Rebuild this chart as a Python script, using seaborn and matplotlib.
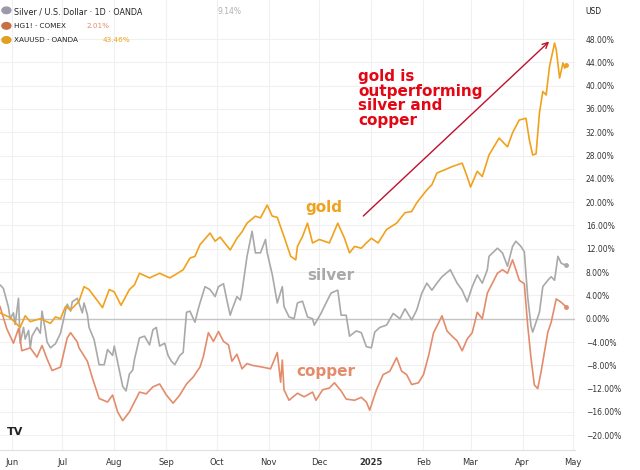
import matplotlib
matplotlib.use("Agg")
import matplotlib.pyplot as plt
import seaborn as sns
import pandas as pd
import numpy as np

start = pd.Timestamp("2024-06-01")

gold_days = [-7,-1,5,8,11,17,23,26,29,32,35,40,43,46,52,54,58,61,65,70,73,76,82,88,94,97,102,106,109,112,118,121,124,130,134,137,140,145,148,152,155,158,162,166,169,170,173,176,179,183,189,194,198,201,204,208,211,214,218,223,229,234,238,241,247,250,253,258,262,268,271,273,277,280,284,290,295,298,302,306,308,310,312,314,316,318,320,323,324,326,328,329,330]
gold_vals = [1,0.2,-1.5,0.5,-0.5,0,-0.8,0.3,0,2.1,1.5,3,5.5,5,2.7,1.9,5,4.6,2.3,5,5.8,7.8,7,7.8,7,7.5,8.4,10.4,10.7,12.7,14.7,13.3,14,11.8,13.8,14.9,16.4,17.6,17.3,19.5,17.6,17.4,14.1,10.7,10.1,12.4,14.1,16.4,13,13.6,13,16.4,13.8,11.3,12.4,12.1,13,13.8,13,15.3,16.4,18.2,18.4,19.9,22.1,23,25,25.6,26.1,26.7,24.4,22.6,25.3,24.4,28.1,31,29.5,31.9,34.1,34.4,30.7,28.1,28.3,35.3,39,38.4,43.3,47.3,46.2,41.3,43.9,43,43.46]

silver_days = [-7,-5,-2,-1,1,2,4,5,7,8,10,11,12,15,17,18,20,21,23,26,29,30,32,33,35,36,39,42,43,45,46,49,52,55,57,60,61,64,66,68,70,72,73,76,79,82,84,86,88,91,93,95,97,100,102,104,106,109,111,112,115,118,121,123,126,128,130,131,134,136,137,140,143,145,148,151,152,155,158,161,162,165,168,170,173,176,179,180,184,186,190,194,196,199,201,205,208,211,214,216,219,223,227,231,234,238,241,244,247,250,253,256,261,262,265,268,271,274,277,280,283,284,289,292,295,298,300,303,305,307,309,310,312,314,316,319,321,323,325,327,330]
silver_vals = [5.8,5.2,2,0,1,-1,3.5,-4.2,-1.5,-3.5,-2,-5,-3,-1.5,-2.5,1.3,-2,-4,-5,-4.3,-2.5,-1.2,1.4,2.5,1.3,2.9,3.5,1,2.7,0.7,-1.5,-3.6,-7.9,-7.9,-5.3,-6.3,-4.7,-8.8,-11.6,-12.4,-9.5,-8.8,-7,-3.3,-3,-4.5,-1.9,-1.5,-4.7,-4.2,-6.3,-7.3,-7.9,-6.3,-5.8,1.1,1.3,-0.6,1.7,2.7,5.5,5,3.8,5.5,6,3.2,0.6,1.5,3.8,3.2,4.6,10.7,15,11.3,11.3,13.6,11.3,7.6,2.7,5.5,2.1,0.3,0,2.7,3,0.3,0,-1.1,0.9,2.1,4.4,4.9,0.6,0.6,-3,-2.1,-2.4,-4.8,-5,-2.3,-1.5,-1.1,0.9,0,1.7,-0.2,1.5,4.4,6.1,4.9,6.1,7.2,8.4,7.8,6.1,4.9,2.9,5.5,7.5,6.1,8.4,10.7,12.1,11.3,9,12.4,13.3,12.4,11.5,3.8,-1.3,-2.3,-0.6,1.1,5.5,6.6,7.2,6.6,10.7,9.5,9.14]

copper_days = [-7,-3,1,4,6,11,15,18,21,24,29,33,35,39,40,45,48,52,57,60,63,66,70,73,76,80,84,88,92,96,100,104,108,112,114,117,120,123,126,129,131,134,137,140,143,149,154,158,160,161,162,165,170,174,179,181,185,189,192,196,199,204,208,211,213,217,221,225,229,232,235,238,242,245,248,251,254,256,259,262,265,268,271,274,277,280,283,286,289,292,295,298,300,302,305,307,309,311,313,315,317,319,321,324,327,330]
copper_vals = [2.1,-1.7,-4.2,-1.7,-5.5,-5,-6.6,-4.6,-6.9,-8.9,-8.3,-3.3,-2.4,-4,-5,-7.3,-10.2,-13.7,-14.3,-13.1,-16,-17.5,-16,-14.3,-12.6,-12.9,-11.7,-11.2,-13.1,-14.5,-13.1,-11.2,-10,-8.3,-6.5,-2.4,-3.9,-2.2,-3.9,-4.5,-7.3,-6.1,-8.6,-7.7,-8,-8.3,-8.6,-5.8,-10.9,-7.1,-12.2,-14,-12.8,-13.4,-12.6,-14,-12.2,-11.9,-11,-12.4,-13.8,-14,-13.5,-14.3,-15.7,-12.2,-9.6,-9,-6.7,-9,-9.6,-11.3,-11,-9.6,-6.4,-2.4,-0.7,0.5,-2.1,-3,-3.8,-5.5,-3.5,-2.4,1.1,0,4.4,6.1,7.8,8.4,7.8,10.1,8.4,6.6,6,-1.1,-6.8,-11.4,-12,-9.1,-5.7,-2.3,-0.6,3.4,2.8,2.01]

month_labels = ["Jun","Jul","Aug","Sep","Oct","Nov","Dec","2025","Feb","Mar","Apr","May"]
month_dates = pd.date_range("2024-06-01", periods=12, freq="MS")
y_ticks = list(range(48, -21, -4))

GOLD, SILVER, COPPER = "#f0a21c", "#a9a9a9", "#e38c6c"

def frame(days, vals, name):
    return pd.DataFrame({"date": start + pd.to_timedelta(days, unit="D"), "pct": vals, "series": name})

df = pd.concat([frame(gold_days, gold_vals, "gold"),
                frame(silver_days, silver_vals, "silver"),
                frame(copper_days, copper_vals, "copper")])

sns.set_style("white")
plt.rcParams['font.family'] = ['DejaVu Sans']
fig = plt.figure(figsize=(6.4, 4.7), dpi=100)
ax = fig.add_axes([0.0, 0.043, 0.898, 0.957])

ax.axhline(0, color="#c4c4c4", lw=1, zorder=1)
sns.lineplot(data=df, x="date", y="pct", hue="series",
             palette={"gold": GOLD, "silver": SILVER, "copper": COPPER},
             hue_order=["silver", "copper", "gold"], lw=1.2, legend=False, ax=ax, zorder=3)

ax.set_xlim(start + pd.Timedelta(days=-7), start + pd.Timedelta(days=335))
ax.set_ylim(-22.5, 54.7)
ax.set_yticks(y_ticks)
ax.set_xticks(month_dates)
ax.set_xticklabels(month_labels)
for lbl in ax.get_xticklabels():
    if lbl.get_text() == "2025":
        lbl.set_fontweight("bold")
ax.grid(True, color="#f0f0f0", lw=0.8)
ax.set_axisbelow(True)
ax.yaxis.tick_right()
ax.set_yticklabels([f"{v:.2f}%" if v >= 0 else f"\u2212{-v:.2f}%" for v in y_ticks])
ax.tick_params(axis="y", labelsize=5.5, colors="#333333", length=0, pad=8)
ax.tick_params(axis="x", labelsize=6, colors="#333333", length=0, pad=6)
ax.set_xlabel(""); ax.set_ylabel("")
for s in ["top", "left", "right"]:
    ax.spines[s].set_visible(False)
ax.spines["bottom"].set_color("#e0e0e0")

# end-of-line dots
for days, vals, c in [(gold_days, gold_vals, GOLD), (silver_days, silver_vals, SILVER), (copper_days, copper_vals, COPPER)]:
    ax.plot([start + pd.Timedelta(days=days[-1])], [vals[-1]], "o", ms=2.5, color=c, zorder=4)

def d(n):
    return start + pd.Timedelta(days=n)

ax.annotate("", xy=(d(321), 47.9), xytext=(d(208), 17.3),
            arrowprops=dict(arrowstyle="->", color="#c0102a", lw=1))
ax.text(d(206), 42.8, "gold is\noutperforming\nsilver and\ncopper", color="#e30613",
        fontsize=11, fontweight="bold", va="top", ha="left", linespacing=0.95)
ax.text(d(186), 19.0, "gold", color=GOLD, fontsize=11, fontweight="bold", ha="center", va="center")
ax.text(d(190), 7.5, "silver", color=SILVER, fontsize=11, fontweight="bold", ha="center", va="center")
ax.text(d(187), -9.1, "copper", color=COPPER, fontsize=11, fontweight="bold", ha="center", va="center")

# legend header
fig.text(0.022, 0.985, "Silver / U.S. Dollar \u00b7 1D \u00b7 OANDA", fontsize=5.8, color="#222222", va="top")
fig.text(0.34, 0.985, "9.14%", fontsize=5.5, color="#b0b0b0", va="top")
fig.text(0.022, 0.952, "HG1! \u00b7 COMEX", fontsize=5.2, color="#222222", va="top")
fig.text(0.135, 0.952, "2.01%", fontsize=5.2, color=COPPER, va="top")
fig.text(0.022, 0.922, "XAUUSD \u00b7 OANDA", fontsize=5.2, color="#222222", va="top")
fig.text(0.16, 0.922, "43.46%", fontsize=5.2, color=GOLD, va="top")
for yy, c in [(0.978, "#9a9aaa"), (0.945, "#c87045"), (0.915, "#e0a020")]:
    fig.patches.append(plt.Circle((0.01, yy), 0.007, transform=fig.transFigure, color=c))
fig.text(0.915, 0.985, "USD", fontsize=5.5, color="#222222", va="top")
fig.text(0.01, 0.075, "TV", fontsize=8, fontweight="bold", color="#222222")

fig.savefig("out.png", dpi=100)
